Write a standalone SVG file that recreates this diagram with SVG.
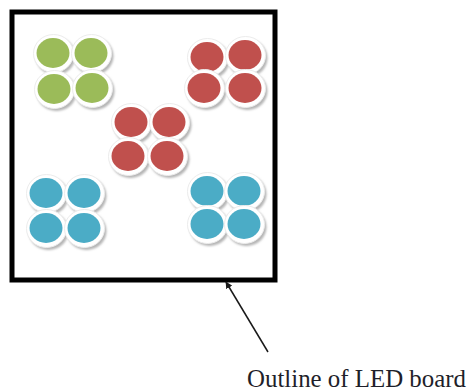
<svg xmlns="http://www.w3.org/2000/svg" xmlns:xlink="http://www.w3.org/1999/xlink" width="467" height="391" viewBox="0 0 467 391">
  <style>
    .board { fill: #ffffff; stroke: #000000; stroke-width: 5; }
    .green { color: #9bbb59; }
    .red { color: #c0504d; }
    .blue { color: #4bacc6; }
    .leader { stroke: #1a1a1a; stroke-width: 1.5; fill: none; }
    .label { font-family: "Liberation Serif", "Times New Roman", serif; font-size: 25px; fill: #1f1f2a; }
  </style>
  <defs>
    <filter id="soft" x="-30%" y="-30%" width="160%" height="160%">
      <feGaussianBlur stdDeviation="1.2"/>
    </filter>
    <!-- one LED: drop shadow, white bezel, coloured lens -->
    <g id="led">
      <ellipse cx="2.5" cy="3" rx="20" ry="19" fill="#b5b5b5" filter="url(#soft)"/>
      <ellipse cx="0.5" cy="0.5" rx="20" ry="19" fill="#ffffff" stroke="#ececec" stroke-width="1"/>
      <ellipse cx="0" cy="0" rx="16.5" ry="15" fill="currentColor"/>
    </g>
    <marker id="head" viewBox="0 0 10 10" refX="9" refY="5" markerWidth="7" markerHeight="7" markerUnits="userSpaceOnUse" orient="auto">
      <path d="M0,0 L10,5 L0,10 Z" fill="#1a1a1a"/>
    </marker>
  </defs>

  <rect width="467" height="391" fill="#ffffff"/>

  <g id="board">
    <rect class="board" x="12" y="12" width="263" height="268"/>
  </g>

  <g id="cluster-green" class="green">
    <use xlink:href="#led" x="53" y="53"/>
    <use xlink:href="#led" x="91" y="53"/>
    <use xlink:href="#led" x="54" y="89"/>
    <use xlink:href="#led" x="92" y="88"/>
  </g>

  <g id="cluster-red-top" class="red">
    <use xlink:href="#led" x="207" y="57"/>
    <use xlink:href="#led" x="245" y="55"/>
    <use xlink:href="#led" x="204" y="88"/>
    <use xlink:href="#led" x="245" y="88"/>
  </g>

  <g id="cluster-red-middle" class="red">
    <use xlink:href="#led" x="131" y="122"/>
    <use xlink:href="#led" x="169" y="122"/>
    <use xlink:href="#led" x="128" y="156"/>
    <use xlink:href="#led" x="167" y="156"/>
  </g>

  <g id="cluster-blue-left" class="blue">
    <use xlink:href="#led" x="46" y="193"/>
    <use xlink:href="#led" x="84" y="193"/>
    <use xlink:href="#led" x="46" y="228"/>
    <use xlink:href="#led" x="84" y="228"/>
  </g>

  <g id="cluster-blue-right" class="blue">
    <use xlink:href="#led" x="207" y="191"/>
    <use xlink:href="#led" x="244" y="191"/>
    <use xlink:href="#led" x="207" y="224"/>
    <use xlink:href="#led" x="244" y="224"/>
  </g>

  <g id="connectors">
    <line class="leader" x1="268" y1="352" x2="226" y2="282" marker-end="url(#head)"/>
  </g>

  <g id="label">
    <text class="label" x="247" y="387" textLength="219" lengthAdjust="spacingAndGlyphs">Outline of LED board</text>
  </g>
</svg>
